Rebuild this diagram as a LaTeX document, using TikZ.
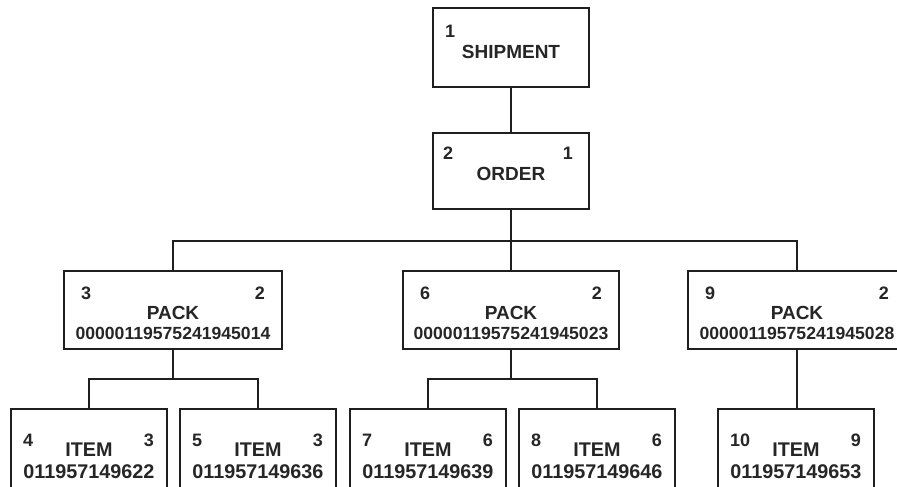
\documentclass[tikz,border=0pt]{standalone}
\usepackage{fontspec}
\setmainfont{Liberation Sans}
\begin{document}
\begin{tikzpicture}[x=1pt,y=-1pt,
  ln/.style={draw=black!88, line width=2pt},
  box/.style={ln, rectangle, inner sep=0pt, fill=white},
  cnum/.style={inner sep=0pt, font=\bfseries\fontsize{18}{18}\selectfont, text=black!85},
  title/.style={inner sep=0pt, font=\bfseries\fontsize{19}{19}\selectfont, text=black!85},
  pid/.style={inner sep=0pt, font=\bfseries\fontsize{17.6}{17.6}\selectfont, text=black!85},
  iid/.style={inner sep=0pt, font=\bfseries\fontsize{19.8}{19.8}\selectfont, text=black!85},
  con/.style={ln, line cap=rect}]
\useasboundingbox (0,0) rectangle (897,487);
\clip (0,0) rectangle (897,487);
% boxes
\node[box, minimum width=156pt, minimum height=79pt] (ship) at (511,47.5) {};
\node[box, minimum width=156pt, minimum height=76pt] (order) at (511,171) {};
\node[box, minimum width=218pt, minimum height=78pt] (p1) at (173,310) {};
\node[box, minimum width=216pt, minimum height=78pt] (p2) at (511,310) {};
\node[box, minimum width=218pt, minimum height=78pt] (p3) at (797,310) {};
\node[box, minimum width=156pt, minimum height=90pt] (i4) at (89,454) {};
\node[box, minimum width=156pt, minimum height=90pt] (i5) at (258,454) {};
\node[box, minimum width=156pt, minimum height=90pt] (i7) at (428,454) {};
\node[box, minimum width=156pt, minimum height=90pt] (i8) at (597,454) {};
\node[box, minimum width=156pt, minimum height=90pt] (i10) at (796,454) {};
% connectors
\coordinate (busA) at (511,241);
\coordinate (busB) at (173,379);
\coordinate (busC) at (511,379);
\draw[con] (ship.south) -- (order.north);
\draw[con] (order.south) -- (p2.north);
\draw[con] (p1.north) |- (busA) -| (p3.north);
\draw[con] (p1.south) -- (busB);
\draw[con] (i4.north) |- (busB) -| (i5.north);
\draw[con] (p2.south) -- (busC);
\draw[con] (i7.north) |- (busC) -| (i8.north);
\draw[con] (p3.south) -- (p3.south |- i10.north);
% shipment texts
\node[cnum, anchor=west] (t1) at ([xshift=13pt,yshift=-24pt]ship.north west) {1};
\node[title] (t2) at ([yshift=-44.5pt]ship.north) {SHIPMENT};
% order texts
\node[cnum, anchor=west] (t3) at ([xshift=11pt,yshift=-21pt]order.north west) {2};
\node[cnum, anchor=east] (t4) at ([xshift=-17pt,yshift=-21pt]order.north east) {1};
\node[title] (t5) at ([yshift=-42pt]order.north) {ORDER};
% packs
\foreach \p/\l/\r/\n in {p1/3/2/00000119575241945014, p2/6/2/00000119575241945023, p3/9/2/00000119575241945028}{
  \node[cnum, anchor=west] (\p l) at ([xshift=18pt,yshift=-23pt]\p.north west) {\l};
  \node[cnum, anchor=east] (\p r) at ([xshift=-18pt,yshift=-23pt]\p.north east) {\r};
  \node[title] (\p t) at ([yshift=-42.5pt]\p.north) {PACK};
  \node[pid] (\p n) at ([yshift=-63pt]\p.north) {\n};
}
% items
\foreach \p/\l/\r/\n in {i4/4/3/011957149622, i5/5/3/011957149636, i7/7/6/011957149639, i8/8/6/011957149646, i10/10/9/011957149653}{
  \node[cnum, anchor=west] (\p l) at ([xshift=13pt,yshift=-32pt]\p.north west) {\l};
  \node[cnum, anchor=east] (\p r) at ([xshift=-14pt,yshift=-32pt]\p.north east) {\r};
  \node[iid] (\p t) at ([yshift=-42pt]\p.north) {ITEM};
  \node[iid] (\p n) at ([yshift=-64pt]\p.north) {\n};
}
\end{tikzpicture}
\end{document}
